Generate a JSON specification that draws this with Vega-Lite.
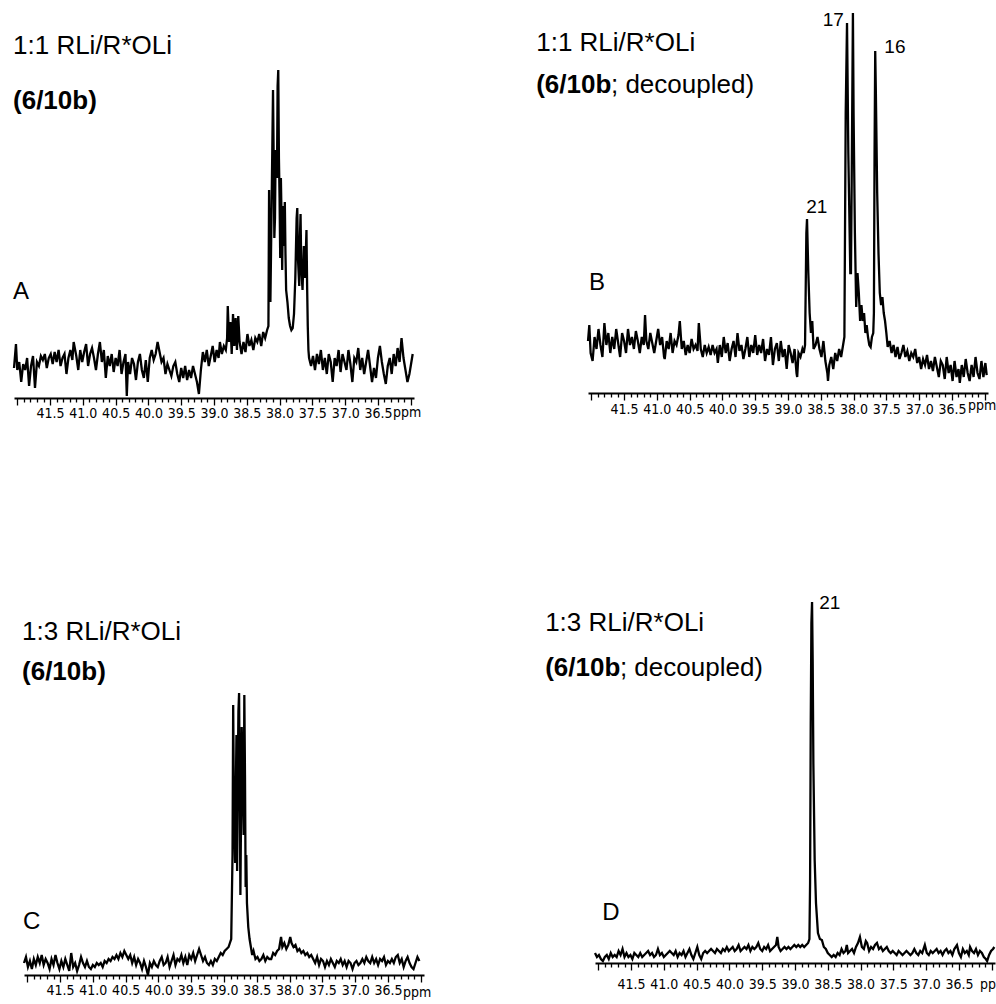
{
"$schema": "https://vega.github.io/schema/vega-lite/v6.json",
"padding": 0,
"autosize": {"type": "pad"},
"columns": 2,
"spacing": 0,
"bounds": "flush",
"config": {"view": {"stroke": null}, "font": "Liberation Sans"},
"datasets": {
"specA": [
{"ppm":42.05,"v":7.5},{"ppm":42.02,"v":13.5},{"ppm":42.0,"v":7},{"ppm":41.97,"v":9},{"ppm":41.94,"v":4},{"ppm":41.91,"v":8.5},{"ppm":41.88,"v":7},{"ppm":41.85,"v":10},{"ppm":41.82,"v":3},{"ppm":41.79,"v":8},{"ppm":41.76,"v":10.5},{"ppm":41.73,"v":2.5},{"ppm":41.7,"v":9},{"ppm":41.67,"v":8},{"ppm":41.64,"v":10.5},{"ppm":41.61,"v":9.5},{"ppm":41.58,"v":11},{"ppm":41.55,"v":7.5},{"ppm":41.52,"v":10},{"ppm":41.49,"v":11},{"ppm":41.46,"v":8.5},{"ppm":41.43,"v":11.5},{"ppm":41.4,"v":9},{"ppm":41.37,"v":12},{"ppm":41.34,"v":8},{"ppm":41.31,"v":10},{"ppm":41.28,"v":11},{"ppm":41.25,"v":6},{"ppm":41.22,"v":10},{"ppm":41.19,"v":12},{"ppm":41.16,"v":9.5},{"ppm":41.14,"v":14},{"ppm":41.1,"v":10.5},{"ppm":41.07,"v":7},{"ppm":41.04,"v":12},{"ppm":41.01,"v":9},{"ppm":40.98,"v":11.5},{"ppm":40.95,"v":13.5},{"ppm":40.92,"v":8},{"ppm":40.89,"v":11},{"ppm":40.86,"v":12.5},{"ppm":40.83,"v":10},{"ppm":40.8,"v":7},{"ppm":40.77,"v":11},{"ppm":40.74,"v":14},{"ppm":40.71,"v":9},{"ppm":40.68,"v":12},{"ppm":40.65,"v":5},{"ppm":40.62,"v":10.5},{"ppm":40.59,"v":8},{"ppm":40.56,"v":11},{"ppm":40.53,"v":6.5},{"ppm":40.5,"v":10},{"ppm":40.47,"v":8},{"ppm":40.44,"v":12},{"ppm":40.41,"v":6},{"ppm":40.38,"v":9},{"ppm":40.35,"v":11},{"ppm":40.33,"v":0.5},{"ppm":40.31,"v":9},{"ppm":40.28,"v":6},{"ppm":40.25,"v":10},{"ppm":40.22,"v":8.5},{"ppm":40.19,"v":4.5},{"ppm":40.16,"v":9},{"ppm":40.13,"v":11},{"ppm":40.1,"v":7},{"ppm":40.07,"v":5},{"ppm":40.04,"v":9.5},{"ppm":40.01,"v":4},{"ppm":39.98,"v":10},{"ppm":39.95,"v":12},{"ppm":39.92,"v":9.5},{"ppm":39.89,"v":11},{"ppm":39.86,"v":14},{"ppm":39.83,"v":11.5},{"ppm":39.8,"v":9},{"ppm":39.77,"v":10},{"ppm":39.74,"v":6},{"ppm":39.71,"v":8.5},{"ppm":39.68,"v":7},{"ppm":39.65,"v":5.5},{"ppm":39.62,"v":8},{"ppm":39.59,"v":9},{"ppm":39.56,"v":6},{"ppm":39.53,"v":4},{"ppm":39.5,"v":7.5},{"ppm":39.47,"v":5},{"ppm":39.44,"v":8},{"ppm":39.41,"v":4.5},{"ppm":39.38,"v":7},{"ppm":39.35,"v":5},{"ppm":39.32,"v":8},{"ppm":39.29,"v":6},{"ppm":39.26,"v":4},{"ppm":39.23,"v":1},{"ppm":39.2,"v":7},{"ppm":39.17,"v":11.5},{"ppm":39.14,"v":9},{"ppm":39.11,"v":12},{"ppm":39.08,"v":8},{"ppm":39.05,"v":10.5},{"ppm":39.02,"v":13},{"ppm":38.99,"v":9},{"ppm":38.96,"v":12},{"ppm":38.93,"v":10},{"ppm":38.91,"v":14},{"ppm":38.88,"v":11},{"ppm":38.85,"v":13},{"ppm":38.82,"v":12},{"ppm":38.8,"v":15},{"ppm":38.79,"v":23},{"ppm":38.77,"v":14},{"ppm":38.75,"v":19},{"ppm":38.73,"v":11},{"ppm":38.71,"v":21},{"ppm":38.69,"v":13},{"ppm":38.67,"v":20},{"ppm":38.65,"v":12},{"ppm":38.63,"v":20.5},{"ppm":38.61,"v":14},{"ppm":38.58,"v":11},{"ppm":38.55,"v":14},{"ppm":38.52,"v":11.5},{"ppm":38.49,"v":16},{"ppm":38.46,"v":13},{"ppm":38.43,"v":14.5},{"ppm":38.4,"v":12},{"ppm":38.37,"v":15},{"ppm":38.34,"v":14},{"ppm":38.31,"v":16},{"ppm":38.28,"v":13},{"ppm":38.25,"v":16.5},{"ppm":38.22,"v":15},{"ppm":38.19,"v":17},{"ppm":38.17,"v":18},{"ppm":38.16,"v":52},{"ppm":38.15,"v":35},{"ppm":38.14,"v":24},{"ppm":38.12,"v":50},{"ppm":38.1,"v":77},{"ppm":38.09,"v":60},{"ppm":38.08,"v":40},{"ppm":38.07,"v":45},{"ppm":38.06,"v":62},{"ppm":38.04,"v":55},{"ppm":38.03,"v":78},{"ppm":38.02,"v":82},{"ppm":38.01,"v":60},{"ppm":38.0,"v":50},{"ppm":37.99,"v":35},{"ppm":37.98,"v":55},{"ppm":37.97,"v":45},{"ppm":37.96,"v":32},{"ppm":37.95,"v":48},{"ppm":37.93,"v":38},{"ppm":37.92,"v":49},{"ppm":37.91,"v":36},{"ppm":37.9,"v":27},{"ppm":37.88,"v":24},{"ppm":37.86,"v":20},{"ppm":37.84,"v":18},{"ppm":37.82,"v":17},{"ppm":37.8,"v":17.5},{"ppm":37.78,"v":21},{"ppm":37.76,"v":30},{"ppm":37.74,"v":45},{"ppm":37.73,"v":47.5},{"ppm":37.72,"v":35},{"ppm":37.7,"v":28},{"ppm":37.69,"v":40},{"ppm":37.68,"v":46},{"ppm":37.67,"v":33},{"ppm":37.65,"v":27},{"ppm":37.63,"v":38},{"ppm":37.61,"v":30},{"ppm":37.59,"v":42},{"ppm":37.58,"v":28},{"ppm":37.57,"v":18},{"ppm":37.56,"v":12},{"ppm":37.55,"v":10},{"ppm":37.52,"v":8},{"ppm":37.49,"v":10.5},{"ppm":37.46,"v":7},{"ppm":37.43,"v":11},{"ppm":37.4,"v":8.5},{"ppm":37.37,"v":12},{"ppm":37.34,"v":7},{"ppm":37.31,"v":10},{"ppm":37.28,"v":6},{"ppm":37.25,"v":11},{"ppm":37.22,"v":9},{"ppm":37.19,"v":4},{"ppm":37.16,"v":10},{"ppm":37.13,"v":8},{"ppm":37.1,"v":12},{"ppm":37.07,"v":6.5},{"ppm":37.04,"v":11},{"ppm":37.01,"v":9},{"ppm":36.98,"v":7},{"ppm":36.95,"v":12},{"ppm":36.92,"v":8.5},{"ppm":36.89,"v":4},{"ppm":36.86,"v":10},{"ppm":36.83,"v":9},{"ppm":36.8,"v":12.5},{"ppm":36.77,"v":7},{"ppm":36.74,"v":10},{"ppm":36.71,"v":6},{"ppm":36.68,"v":9},{"ppm":36.65,"v":12},{"ppm":36.62,"v":8},{"ppm":36.59,"v":4},{"ppm":36.56,"v":7.5},{"ppm":36.53,"v":5},{"ppm":36.5,"v":10},{"ppm":36.47,"v":13},{"ppm":36.44,"v":9},{"ppm":36.41,"v":6},{"ppm":36.38,"v":3.5},{"ppm":36.35,"v":8},{"ppm":36.32,"v":10},{"ppm":36.29,"v":6},{"ppm":36.26,"v":11},{"ppm":36.23,"v":8},{"ppm":36.2,"v":12.5},{"ppm":36.17,"v":9},{"ppm":36.14,"v":15},{"ppm":36.11,"v":10},{"ppm":36.08,"v":7},{"ppm":36.05,"v":4},{"ppm":36.02,"v":6},{"ppm":35.99,"v":9},{"ppm":35.97,"v":11}
],
"specB": [
{"ppm":42.05,"v":13},{"ppm":42.03,"v":17},{"ppm":42.01,"v":10},{"ppm":41.98,"v":8},{"ppm":41.95,"v":14},{"ppm":41.92,"v":11},{"ppm":41.89,"v":16},{"ppm":41.86,"v":12},{"ppm":41.83,"v":9},{"ppm":41.8,"v":17.5},{"ppm":41.77,"v":12},{"ppm":41.74,"v":15},{"ppm":41.71,"v":10},{"ppm":41.68,"v":14},{"ppm":41.65,"v":11},{"ppm":41.62,"v":16},{"ppm":41.59,"v":12.5},{"ppm":41.56,"v":9},{"ppm":41.53,"v":15},{"ppm":41.5,"v":13},{"ppm":41.47,"v":10},{"ppm":41.44,"v":16},{"ppm":41.41,"v":12},{"ppm":41.38,"v":14},{"ppm":41.35,"v":11},{"ppm":41.32,"v":15.5},{"ppm":41.29,"v":13},{"ppm":41.26,"v":10},{"ppm":41.23,"v":14},{"ppm":41.2,"v":12},{"ppm":41.18,"v":19.5},{"ppm":41.16,"v":13},{"ppm":41.13,"v":11},{"ppm":41.1,"v":15},{"ppm":41.07,"v":12.5},{"ppm":41.04,"v":10},{"ppm":41.01,"v":13},{"ppm":40.98,"v":16},{"ppm":40.95,"v":12},{"ppm":40.92,"v":14},{"ppm":40.89,"v":9},{"ppm":40.88,"v":8.5},{"ppm":40.85,"v":13},{"ppm":40.82,"v":11},{"ppm":40.79,"v":15},{"ppm":40.76,"v":10},{"ppm":40.73,"v":13},{"ppm":40.7,"v":12},{"ppm":40.67,"v":14.5},{"ppm":40.65,"v":18},{"ppm":40.62,"v":11},{"ppm":40.59,"v":13},{"ppm":40.56,"v":9.5},{"ppm":40.53,"v":12},{"ppm":40.5,"v":10},{"ppm":40.47,"v":13.5},{"ppm":40.44,"v":11},{"ppm":40.41,"v":12},{"ppm":40.38,"v":10.5},{"ppm":40.36,"v":17.5},{"ppm":40.33,"v":11},{"ppm":40.3,"v":9},{"ppm":40.27,"v":12},{"ppm":40.24,"v":10},{"ppm":40.21,"v":11.5},{"ppm":40.18,"v":9.5},{"ppm":40.15,"v":12},{"ppm":40.12,"v":10},{"ppm":40.09,"v":11},{"ppm":40.07,"v":7.5},{"ppm":40.04,"v":12},{"ppm":40.01,"v":9},{"ppm":39.98,"v":14},{"ppm":39.95,"v":10},{"ppm":39.92,"v":12.5},{"ppm":39.89,"v":8},{"ppm":39.86,"v":11},{"ppm":39.83,"v":13},{"ppm":39.8,"v":9},{"ppm":39.77,"v":15},{"ppm":39.74,"v":10.5},{"ppm":39.71,"v":12},{"ppm":39.68,"v":8.5},{"ppm":39.65,"v":11},{"ppm":39.62,"v":14},{"ppm":39.59,"v":9},{"ppm":39.56,"v":12},{"ppm":39.53,"v":10},{"ppm":39.5,"v":14.5},{"ppm":39.47,"v":9.5},{"ppm":39.44,"v":12},{"ppm":39.41,"v":10},{"ppm":39.38,"v":13.5},{"ppm":39.35,"v":8},{"ppm":39.32,"v":11},{"ppm":39.29,"v":9.5},{"ppm":39.26,"v":14},{"ppm":39.23,"v":7},{"ppm":39.2,"v":11},{"ppm":39.17,"v":12.5},{"ppm":39.14,"v":8},{"ppm":39.11,"v":13},{"ppm":39.08,"v":9},{"ppm":39.05,"v":11},{"ppm":39.02,"v":6},{"ppm":38.99,"v":12},{"ppm":38.96,"v":10},{"ppm":38.93,"v":7.5},{"ppm":38.9,"v":11},{"ppm":38.87,"v":5},{"ppm":38.86,"v":4},{"ppm":38.84,"v":10},{"ppm":38.81,"v":9},{"ppm":38.78,"v":11},{"ppm":38.76,"v":10},{"ppm":38.74,"v":12},{"ppm":38.72,"v":40},{"ppm":38.71,"v":43.5},{"ppm":38.69,"v":30},{"ppm":38.67,"v":20},{"ppm":38.65,"v":15},{"ppm":38.63,"v":18},{"ppm":38.61,"v":11},{"ppm":38.58,"v":12},{"ppm":38.55,"v":14},{"ppm":38.52,"v":11},{"ppm":38.49,"v":9},{"ppm":38.46,"v":13},{"ppm":38.43,"v":8},{"ppm":38.4,"v":5},{"ppm":38.39,"v":3},{"ppm":38.37,"v":7},{"ppm":38.34,"v":9},{"ppm":38.31,"v":6},{"ppm":38.28,"v":10},{"ppm":38.25,"v":8},{"ppm":38.22,"v":11},{"ppm":38.19,"v":9},{"ppm":38.16,"v":12},{"ppm":38.14,"v":14},{"ppm":38.12,"v":70},{"ppm":38.1,"v":92.5},{"ppm":38.08,"v":60},{"ppm":38.06,"v":40},{"ppm":38.05,"v":30},{"ppm":38.04,"v":30},{"ppm":38.03,"v":50},{"ppm":38.01,"v":95},{"ppm":38.0,"v":70},{"ppm":37.98,"v":40},{"ppm":37.96,"v":21.5},{"ppm":37.94,"v":30},{"ppm":37.92,"v":25},{"ppm":37.9,"v":18},{"ppm":37.88,"v":22},{"ppm":37.86,"v":18},{"ppm":37.84,"v":20},{"ppm":37.82,"v":15},{"ppm":37.8,"v":17},{"ppm":37.78,"v":14},{"ppm":37.76,"v":12},{"ppm":37.74,"v":11.5},{"ppm":37.72,"v":14},{"ppm":37.7,"v":15},{"ppm":37.69,"v":20},{"ppm":37.68,"v":60},{"ppm":37.67,"v":85.5},{"ppm":37.66,"v":75},{"ppm":37.64,"v":50},{"ppm":37.62,"v":35},{"ppm":37.6,"v":25},{"ppm":37.58,"v":22},{"ppm":37.56,"v":24},{"ppm":37.54,"v":20},{"ppm":37.52,"v":18},{"ppm":37.5,"v":15},{"ppm":37.48,"v":11.5},{"ppm":37.45,"v":13},{"ppm":37.42,"v":10},{"ppm":37.39,"v":12},{"ppm":37.36,"v":9},{"ppm":37.33,"v":11.5},{"ppm":37.3,"v":8.5},{"ppm":37.27,"v":10},{"ppm":37.24,"v":12},{"ppm":37.21,"v":9},{"ppm":37.18,"v":10.5},{"ppm":37.15,"v":8},{"ppm":37.12,"v":10},{"ppm":37.09,"v":9},{"ppm":37.06,"v":11},{"ppm":37.03,"v":7.5},{"ppm":37.0,"v":9},{"ppm":36.97,"v":6},{"ppm":36.94,"v":8.5},{"ppm":36.91,"v":7},{"ppm":36.88,"v":9.5},{"ppm":36.85,"v":6},{"ppm":36.82,"v":8},{"ppm":36.79,"v":5.5},{"ppm":36.76,"v":9},{"ppm":36.73,"v":6.5},{"ppm":36.7,"v":4},{"ppm":36.67,"v":8},{"ppm":36.64,"v":7},{"ppm":36.61,"v":3.5},{"ppm":36.58,"v":9},{"ppm":36.55,"v":5},{"ppm":36.52,"v":7},{"ppm":36.49,"v":3},{"ppm":36.46,"v":8},{"ppm":36.43,"v":4},{"ppm":36.4,"v":6},{"ppm":36.38,"v":2.5},{"ppm":36.35,"v":7},{"ppm":36.32,"v":4},{"ppm":36.29,"v":8.5},{"ppm":36.26,"v":5},{"ppm":36.23,"v":3},{"ppm":36.2,"v":7},{"ppm":36.17,"v":4},{"ppm":36.14,"v":9},{"ppm":36.11,"v":5},{"ppm":36.08,"v":3.5},{"ppm":36.05,"v":8},{"ppm":36.02,"v":4},{"ppm":35.99,"v":7.5},{"ppm":35.97,"v":4.5}
],
"specC": [
{"ppm":42.05,"v":3},{"ppm":42.02,"v":4.5},{"ppm":41.99,"v":2},{"ppm":41.96,"v":3.5},{"ppm":41.93,"v":1.5},{"ppm":41.9,"v":4},{"ppm":41.87,"v":2.5},{"ppm":41.84,"v":4.5},{"ppm":41.81,"v":3},{"ppm":41.78,"v":5},{"ppm":41.75,"v":2.5},{"ppm":41.72,"v":4},{"ppm":41.69,"v":3},{"ppm":41.66,"v":1.5},{"ppm":41.63,"v":4},{"ppm":41.6,"v":2.5},{"ppm":41.57,"v":5},{"ppm":41.54,"v":3},{"ppm":41.51,"v":1.5},{"ppm":41.48,"v":3.5},{"ppm":41.45,"v":2},{"ppm":41.42,"v":4},{"ppm":41.39,"v":2.5},{"ppm":41.36,"v":1},{"ppm":41.33,"v":5.5},{"ppm":41.3,"v":2},{"ppm":41.27,"v":3},{"ppm":41.24,"v":1},{"ppm":41.21,"v":2.5},{"ppm":41.18,"v":4.5},{"ppm":41.15,"v":3},{"ppm":41.12,"v":2},{"ppm":41.09,"v":3.5},{"ppm":41.06,"v":2},{"ppm":41.03,"v":1.5},{"ppm":41.0,"v":2.5},{"ppm":40.97,"v":2},{"ppm":40.94,"v":3},{"ppm":40.91,"v":2.5},{"ppm":40.88,"v":3},{"ppm":40.85,"v":2},{"ppm":40.82,"v":3.5},{"ppm":40.79,"v":3},{"ppm":40.76,"v":4},{"ppm":40.73,"v":3.5},{"ppm":40.7,"v":4.5},{"ppm":40.67,"v":4},{"ppm":40.64,"v":5},{"ppm":40.61,"v":4},{"ppm":40.58,"v":5.5},{"ppm":40.55,"v":4.5},{"ppm":40.52,"v":6},{"ppm":40.49,"v":5},{"ppm":40.46,"v":4},{"ppm":40.43,"v":5},{"ppm":40.4,"v":3},{"ppm":40.37,"v":4.5},{"ppm":40.34,"v":2.5},{"ppm":40.31,"v":4},{"ppm":40.28,"v":3},{"ppm":40.25,"v":1.5},{"ppm":40.22,"v":3.5},{"ppm":40.19,"v":2},{"ppm":40.16,"v":0},{"ppm":40.13,"v":3},{"ppm":40.1,"v":2},{"ppm":40.07,"v":3.5},{"ppm":40.04,"v":2.5},{"ppm":40.01,"v":2},{"ppm":39.98,"v":3.5},{"ppm":39.95,"v":4.5},{"ppm":39.92,"v":2.5},{"ppm":39.89,"v":3},{"ppm":39.86,"v":4.5},{"ppm":39.83,"v":2},{"ppm":39.8,"v":3.5},{"ppm":39.77,"v":5},{"ppm":39.74,"v":2.5},{"ppm":39.71,"v":4},{"ppm":39.68,"v":3.5},{"ppm":39.65,"v":5},{"ppm":39.62,"v":3},{"ppm":39.59,"v":4.5},{"ppm":39.56,"v":2.5},{"ppm":39.53,"v":5},{"ppm":39.5,"v":4},{"ppm":39.47,"v":5.5},{"ppm":39.44,"v":3.5},{"ppm":39.41,"v":5},{"ppm":39.38,"v":6.5},{"ppm":39.35,"v":5},{"ppm":39.32,"v":3.5},{"ppm":39.29,"v":4.5},{"ppm":39.26,"v":3},{"ppm":39.23,"v":2.5},{"ppm":39.2,"v":3.5},{"ppm":39.17,"v":2.5},{"ppm":39.14,"v":4},{"ppm":39.11,"v":3.5},{"ppm":39.08,"v":4.5},{"ppm":39.05,"v":5.5},{"ppm":39.02,"v":5},{"ppm":38.99,"v":6},{"ppm":38.96,"v":6.5},{"ppm":38.93,"v":7},{"ppm":38.91,"v":8},{"ppm":38.89,"v":9},{"ppm":38.87,"v":30},{"ppm":38.86,"v":67.5},{"ppm":38.85,"v":45},{"ppm":38.83,"v":28},{"ppm":38.82,"v":45},{"ppm":38.81,"v":60},{"ppm":38.8,"v":26},{"ppm":38.79,"v":50},{"ppm":38.78,"v":66},{"ppm":38.77,"v":70.5},{"ppm":38.76,"v":45},{"ppm":38.75,"v":20},{"ppm":38.74,"v":40},{"ppm":38.73,"v":62},{"ppm":38.72,"v":55},{"ppm":38.7,"v":35},{"ppm":38.69,"v":70},{"ppm":38.68,"v":50},{"ppm":38.67,"v":22},{"ppm":38.66,"v":30},{"ppm":38.65,"v":18},{"ppm":38.63,"v":12},{"ppm":38.61,"v":9},{"ppm":38.59,"v":7},{"ppm":38.57,"v":5},{"ppm":38.55,"v":6},{"ppm":38.52,"v":4},{"ppm":38.49,"v":4.5},{"ppm":38.46,"v":3.5},{"ppm":38.43,"v":4},{"ppm":38.4,"v":5},{"ppm":38.37,"v":3.5},{"ppm":38.34,"v":4.5},{"ppm":38.31,"v":4},{"ppm":38.28,"v":4},{"ppm":38.25,"v":5.5},{"ppm":38.22,"v":5},{"ppm":38.19,"v":6},{"ppm":38.16,"v":6.5},{"ppm":38.13,"v":9.5},{"ppm":38.11,"v":7},{"ppm":38.08,"v":8},{"ppm":38.05,"v":6.5},{"ppm":38.02,"v":7.5},{"ppm":37.99,"v":9.5},{"ppm":37.97,"v":8},{"ppm":37.94,"v":7},{"ppm":37.91,"v":7.5},{"ppm":37.88,"v":6},{"ppm":37.85,"v":6.5},{"ppm":37.82,"v":5.5},{"ppm":37.79,"v":6},{"ppm":37.76,"v":5},{"ppm":37.73,"v":5.5},{"ppm":37.7,"v":4.5},{"ppm":37.67,"v":5},{"ppm":37.64,"v":4},{"ppm":37.61,"v":3},{"ppm":37.58,"v":4.5},{"ppm":37.55,"v":2.5},{"ppm":37.52,"v":4},{"ppm":37.49,"v":3.5},{"ppm":37.46,"v":2},{"ppm":37.43,"v":3.5},{"ppm":37.4,"v":2.5},{"ppm":37.37,"v":4},{"ppm":37.34,"v":3},{"ppm":37.31,"v":2},{"ppm":37.28,"v":3.5},{"ppm":37.25,"v":3},{"ppm":37.22,"v":4},{"ppm":37.19,"v":2.5},{"ppm":37.16,"v":3.5},{"ppm":37.13,"v":2},{"ppm":37.1,"v":3.5},{"ppm":37.07,"v":3},{"ppm":37.04,"v":1.5},{"ppm":37.01,"v":3},{"ppm":36.98,"v":3.5},{"ppm":36.95,"v":2.5},{"ppm":36.92,"v":3},{"ppm":36.89,"v":4},{"ppm":36.86,"v":3},{"ppm":36.83,"v":4.5},{"ppm":36.8,"v":3.5},{"ppm":36.77,"v":3},{"ppm":36.74,"v":4.5},{"ppm":36.71,"v":3},{"ppm":36.68,"v":4},{"ppm":36.65,"v":2.5},{"ppm":36.62,"v":4},{"ppm":36.59,"v":3.5},{"ppm":36.56,"v":4.5},{"ppm":36.53,"v":2.5},{"ppm":36.5,"v":3.5},{"ppm":36.47,"v":3},{"ppm":36.44,"v":4},{"ppm":36.41,"v":3},{"ppm":36.38,"v":4.5},{"ppm":36.35,"v":5},{"ppm":36.32,"v":3},{"ppm":36.29,"v":4},{"ppm":36.26,"v":2},{"ppm":36.23,"v":3.5},{"ppm":36.2,"v":4.5},{"ppm":36.17,"v":3},{"ppm":36.14,"v":2},{"ppm":36.11,"v":1.5},{"ppm":36.08,"v":3},{"ppm":36.05,"v":4.5},{"ppm":36.02,"v":3.5}
],
"specD": [
{"ppm":42.05,"v":2.5},{"ppm":42.02,"v":1.5},{"ppm":41.99,"v":2},{"ppm":41.96,"v":1},{"ppm":41.93,"v":0.5},{"ppm":41.9,"v":1.5},{"ppm":41.87,"v":2},{"ppm":41.84,"v":1},{"ppm":41.81,"v":2.5},{"ppm":41.78,"v":1.5},{"ppm":41.75,"v":2},{"ppm":41.72,"v":1.5},{"ppm":41.69,"v":3},{"ppm":41.66,"v":2},{"ppm":41.63,"v":3.5},{"ppm":41.6,"v":1.5},{"ppm":41.57,"v":2.5},{"ppm":41.54,"v":1.5},{"ppm":41.51,"v":2},{"ppm":41.48,"v":1},{"ppm":41.45,"v":2.5},{"ppm":41.42,"v":2},{"ppm":41.39,"v":1.5},{"ppm":41.36,"v":2.5},{"ppm":41.33,"v":1.5},{"ppm":41.3,"v":2},{"ppm":41.27,"v":2.5},{"ppm":41.24,"v":3},{"ppm":41.21,"v":2},{"ppm":41.18,"v":2.5},{"ppm":41.15,"v":1.5},{"ppm":41.12,"v":2},{"ppm":41.09,"v":3.5},{"ppm":41.06,"v":2},{"ppm":41.03,"v":2.5},{"ppm":41.0,"v":1.5},{"ppm":40.97,"v":2},{"ppm":40.94,"v":2.5},{"ppm":40.91,"v":3},{"ppm":40.88,"v":2.5},{"ppm":40.85,"v":2},{"ppm":40.82,"v":3},{"ppm":40.79,"v":1.5},{"ppm":40.76,"v":2.5},{"ppm":40.73,"v":2},{"ppm":40.7,"v":3},{"ppm":40.67,"v":1.5},{"ppm":40.64,"v":2.5},{"ppm":40.61,"v":3.5},{"ppm":40.58,"v":2},{"ppm":40.55,"v":1},{"ppm":40.52,"v":2.5},{"ppm":40.49,"v":4},{"ppm":40.46,"v":2},{"ppm":40.43,"v":1},{"ppm":40.4,"v":2.5},{"ppm":40.37,"v":3},{"ppm":40.34,"v":2.5},{"ppm":40.31,"v":3},{"ppm":40.28,"v":3.5},{"ppm":40.25,"v":3},{"ppm":40.22,"v":2.5},{"ppm":40.19,"v":3.5},{"ppm":40.16,"v":3},{"ppm":40.13,"v":2.5},{"ppm":40.1,"v":3.5},{"ppm":40.07,"v":3},{"ppm":40.04,"v":4},{"ppm":40.01,"v":3},{"ppm":39.98,"v":3.5},{"ppm":39.95,"v":4},{"ppm":39.92,"v":3},{"ppm":39.89,"v":3.5},{"ppm":39.86,"v":4.5},{"ppm":39.83,"v":3},{"ppm":39.8,"v":3.5},{"ppm":39.77,"v":4},{"ppm":39.74,"v":3.5},{"ppm":39.71,"v":4.5},{"ppm":39.68,"v":3},{"ppm":39.65,"v":4},{"ppm":39.62,"v":3.5},{"ppm":39.59,"v":4},{"ppm":39.56,"v":5},{"ppm":39.53,"v":3.5},{"ppm":39.5,"v":3},{"ppm":39.47,"v":4},{"ppm":39.44,"v":3.5},{"ppm":39.41,"v":4.5},{"ppm":39.38,"v":3},{"ppm":39.35,"v":3.5},{"ppm":39.32,"v":4},{"ppm":39.29,"v":4.5},{"ppm":39.27,"v":6.5},{"ppm":39.25,"v":4},{"ppm":39.22,"v":3},{"ppm":39.19,"v":3.5},{"ppm":39.16,"v":4},{"ppm":39.13,"v":3.5},{"ppm":39.1,"v":4},{"ppm":39.07,"v":3.5},{"ppm":39.04,"v":4},{"ppm":39.01,"v":4.5},{"ppm":38.98,"v":4},{"ppm":38.95,"v":4.5},{"ppm":38.92,"v":4},{"ppm":38.89,"v":4.5},{"ppm":38.86,"v":4},{"ppm":38.83,"v":4.5},{"ppm":38.8,"v":5},{"ppm":38.78,"v":6},{"ppm":38.77,"v":20},{"ppm":38.76,"v":60},{"ppm":38.75,"v":85},{"ppm":38.74,"v":90.25},{"ppm":38.73,"v":75},{"ppm":38.72,"v":50},{"ppm":38.7,"v":25.75},{"ppm":38.68,"v":15},{"ppm":38.65,"v":7.5},{"ppm":38.62,"v":6},{"ppm":38.59,"v":5.75},{"ppm":38.56,"v":4},{"ppm":38.53,"v":3.5},{"ppm":38.5,"v":2.5},{"ppm":38.47,"v":2},{"ppm":38.44,"v":1.5},{"ppm":38.41,"v":2},{"ppm":38.38,"v":1.5},{"ppm":38.35,"v":2.5},{"ppm":38.32,"v":2},{"ppm":38.29,"v":3.5},{"ppm":38.26,"v":2.5},{"ppm":38.23,"v":3},{"ppm":38.21,"v":4.5},{"ppm":38.19,"v":2.5},{"ppm":38.16,"v":3},{"ppm":38.13,"v":3.5},{"ppm":38.1,"v":2.5},{"ppm":38.07,"v":4},{"ppm":38.04,"v":5},{"ppm":38.01,"v":6.5},{"ppm":37.98,"v":4},{"ppm":37.95,"v":3.5},{"ppm":37.92,"v":5.5},{"ppm":37.9,"v":5},{"ppm":37.87,"v":3},{"ppm":37.84,"v":4},{"ppm":37.81,"v":3.5},{"ppm":37.78,"v":4.5},{"ppm":37.75,"v":5},{"ppm":37.72,"v":3.5},{"ppm":37.69,"v":4},{"ppm":37.66,"v":3},{"ppm":37.63,"v":3.5},{"ppm":37.6,"v":4},{"ppm":37.57,"v":3},{"ppm":37.54,"v":2.5},{"ppm":37.51,"v":3},{"ppm":37.48,"v":2.5},{"ppm":37.45,"v":2},{"ppm":37.42,"v":3},{"ppm":37.39,"v":2.5},{"ppm":37.36,"v":2},{"ppm":37.33,"v":2.5},{"ppm":37.3,"v":3},{"ppm":37.27,"v":2.5},{"ppm":37.24,"v":2},{"ppm":37.21,"v":2.5},{"ppm":37.18,"v":3.5},{"ppm":37.15,"v":2.5},{"ppm":37.12,"v":2},{"ppm":37.09,"v":3},{"ppm":37.06,"v":2.5},{"ppm":37.02,"v":4.5},{"ppm":36.99,"v":2.5},{"ppm":36.96,"v":2},{"ppm":36.93,"v":3},{"ppm":36.9,"v":2.5},{"ppm":36.87,"v":3},{"ppm":36.84,"v":3.5},{"ppm":36.81,"v":2.5},{"ppm":36.78,"v":3},{"ppm":36.75,"v":2},{"ppm":36.72,"v":3},{"ppm":36.69,"v":3.5},{"ppm":36.66,"v":2.5},{"ppm":36.63,"v":3},{"ppm":36.6,"v":2},{"ppm":36.57,"v":3.5},{"ppm":36.53,"v":4.5},{"ppm":36.5,"v":2.5},{"ppm":36.47,"v":1.5},{"ppm":36.44,"v":3.5},{"ppm":36.41,"v":2.5},{"ppm":36.38,"v":3},{"ppm":36.35,"v":2},{"ppm":36.33,"v":4},{"ppm":36.3,"v":3},{"ppm":36.27,"v":2.5},{"ppm":36.24,"v":3.5},{"ppm":36.21,"v":2},{"ppm":36.18,"v":3},{"ppm":36.15,"v":2.5},{"ppm":36.12,"v":1.5},{"ppm":36.09,"v":1},{"ppm":36.07,"v":0.5},{"ppm":36.04,"v":2},{"ppm":36.01,"v":3},{"ppm":35.98,"v":3.5},{"ppm":35.96,"v":4}
]
},
"concat": [
{
 "width": 498, "height": 502,
 "encoding": {
  "x": {"field": "ppm", "type": "quantitative",
   "scale": {"domain": [35.95, 42.05], "range": [14, 414], "reverse": true, "nice": false, "zero": false},
   "axis": {"title": null, "offset": -104, "labelPadding": 1, "values": [36,36.1,36.2,36.3,36.4,36.5,36.6,36.7,36.8,36.9,37,37.1,37.2,37.3,37.4,37.5,37.6,37.7,37.8,37.9,38,38.1,38.2,38.3,38.4,38.5,38.6,38.7,38.8,38.9,39,39.1,39.2,39.3,39.4,39.5,39.6,39.7,39.8,39.9,40,40.1,40.2,40.3,40.4,40.5,40.6,40.7,40.8,40.9,41,41.1,41.2,41.3,41.4,41.5,41.6,41.7,41.8,41.9,42],
    "labelExpr": "(abs(datum.value*2 - round(datum.value*2)) < 0.01 && datum.value > 36.45 && datum.value < 41.55) ? format(datum.value, '.1f') : ''",
    "tickSize": {"condition": {"test": "abs(datum.value*2 - round(datum.value*2)) < 0.01", "value": 7}, "value": 4},
    "domainColor": "black", "domainWidth": 2, "tickColor": "black", "tickWidth": 1.3, "grid": false,
    "labelColor": "black", "labelFont": "Liberation Sans Narrow, DejaVu Sans Condensed, sans-serif", "labelFontSize": 14,
    "labelOverlap": false, "labelFlush": false, "labelBound": false}},
  "y": {"field": "v", "type": "quantitative", "scale": {"domain": [0, 100], "range": [398, -2], "nice": false, "zero": false}, "axis": null}
 },
 "layer": [
  {"data": {"name": "specA"}, "mark": {"type": "line", "color": "black", "strokeWidth": 2.3, "clip": false}},
  {"data": {"values": [{"t": "1:1 RLi/R*OLi", "ppm": 42.065, "v": 88}]}, "mark": {"type": "text", "align": "left", "baseline": "middle", "fontSize": 26, "font": "Liberation Sans", "color": "black"}, "encoding": {"text": {"field": "t"}}},
  {"data": {"values": [{"t": "(6/10b)", "ppm": 42.065, "v": 74.25}]}, "mark": {"type": "text", "align": "left", "baseline": "middle", "fontSize": 26, "fontWeight": "bold", "font": "Liberation Sans", "color": "black"}, "encoding": {"text": {"field": "t"}}},
  {"data": {"values": [{"t": "A", "ppm": 42.065, "v": 26.5}]}, "mark": {"type": "text", "align": "left", "baseline": "middle", "fontSize": 24, "font": "Liberation Sans", "color": "black"}, "encoding": {"text": {"field": "t"}}},
  {"data": {"values": [{"t": "ppm", "ppm": 36.27, "v": -3.75}]}, "mark": {"type": "text", "align": "left", "baseline": "middle", "fontSize": 14, "font": "Liberation Sans Narrow, DejaVu Sans Condensed, sans-serif", "color": "black"}, "encoding": {"text": {"field": "t"}}}
 ]
},
{
 "width": 498, "height": 502,
 "encoding": {
  "x": {"field": "ppm", "type": "quantitative",
   "scale": {"domain": [35.95, 42.05], "range": [90, 490], "reverse": true, "nice": false, "zero": false},
   "axis": {"title": null, "offset": -109, "labelPadding": 2, "values": [36,36.1,36.2,36.3,36.4,36.5,36.6,36.7,36.8,36.9,37,37.1,37.2,37.3,37.4,37.5,37.6,37.7,37.8,37.9,38,38.1,38.2,38.3,38.4,38.5,38.6,38.7,38.8,38.9,39,39.1,39.2,39.3,39.4,39.5,39.6,39.7,39.8,39.9,40,40.1,40.2,40.3,40.4,40.5,40.6,40.7,40.8,40.9,41,41.1,41.2,41.3,41.4,41.5,41.6,41.7,41.8,41.9,42],
    "labelExpr": "(abs(datum.value*2 - round(datum.value*2)) < 0.01 && datum.value > 36.45 && datum.value < 41.55) ? format(datum.value, '.1f') : ''",
    "tickSize": {"condition": {"test": "abs(datum.value*2 - round(datum.value*2)) < 0.01", "value": 7}, "value": 4},
    "domainColor": "black", "domainWidth": 2, "tickColor": "black", "tickWidth": 1.3, "grid": false,
    "labelColor": "black", "labelFont": "Liberation Sans Narrow, DejaVu Sans Condensed, sans-serif", "labelFontSize": 14,
    "labelOverlap": false, "labelFlush": false, "labelBound": false}},
  "y": {"field": "v", "type": "quantitative", "scale": {"domain": [0, 100], "range": [393, -7], "nice": false, "zero": false}, "axis": null}
 },
 "layer": [
  {"data": {"name": "specB"}, "mark": {"type": "line", "color": "black", "strokeWidth": 2.3, "clip": false}},
  {"data": {"values": [{"t": "1:1 RLi/R*OLi", "ppm": 42.84, "v": 87.5}, {"t": "; decoupled)", "ppm": 41.7, "v": 77}]}, "mark": {"type": "text", "align": "left", "baseline": "middle", "fontSize": 26, "font": "Liberation Sans", "color": "black"}, "encoding": {"text": {"field": "t"}}},
  {"data": {"values": [{"t": "(6/10b", "ppm": 42.84, "v": 77}]}, "mark": {"type": "text", "align": "left", "baseline": "middle", "fontSize": 26, "fontWeight": "bold", "font": "Liberation Sans", "color": "black"}, "encoding": {"text": {"field": "t"}}},
  {"data": {"values": [{"t": "B", "ppm": 42.035, "v": 27.5}]}, "mark": {"type": "text", "align": "left", "baseline": "middle", "fontSize": 24, "font": "Liberation Sans", "color": "black"}, "encoding": {"text": {"field": "t"}}},
  {"data": {"values": [{"t": "21", "ppm": 38.56, "v": 46.5}, {"t": "17", "ppm": 38.31, "v": 93.25}, {"t": "16", "ppm": 37.37, "v": 86.5}]}, "mark": {"type": "text", "align": "center", "baseline": "middle", "fontSize": 19, "font": "Liberation Sans", "color": "black"}, "encoding": {"text": {"field": "t"}}},
  {"data": {"values": [{"t": "ppm", "ppm": 36.255, "v": -3.25}]}, "mark": {"type": "text", "align": "left", "baseline": "middle", "fontSize": 14, "font": "Liberation Sans Narrow, DejaVu Sans Condensed, sans-serif", "color": "black"}, "encoding": {"text": {"field": "t"}}}
 ]
},
{
 "width": 498, "height": 502,
 "encoding": {
  "x": {"field": "ppm", "type": "quantitative",
   "scale": {"domain": [35.95, 42.05], "range": [24, 424], "reverse": true, "nice": false, "zero": false},
   "axis": {"title": null, "offset": -29, "labelPadding": 1, "values": [36,36.1,36.2,36.3,36.4,36.5,36.6,36.7,36.8,36.9,37,37.1,37.2,37.3,37.4,37.5,37.6,37.7,37.8,37.9,38,38.1,38.2,38.3,38.4,38.5,38.6,38.7,38.8,38.9,39,39.1,39.2,39.3,39.4,39.5,39.6,39.7,39.8,39.9,40,40.1,40.2,40.3,40.4,40.5,40.6,40.7,40.8,40.9,41,41.1,41.2,41.3,41.4,41.5,41.6,41.7,41.8,41.9,42],
    "labelExpr": "(abs(datum.value*2 - round(datum.value*2)) < 0.01 && datum.value > 36.45 && datum.value < 41.55) ? format(datum.value, '.1f') : ''",
    "tickSize": {"condition": {"test": "abs(datum.value*2 - round(datum.value*2)) < 0.01", "value": 7}, "value": 4},
    "domainColor": "black", "domainWidth": 2, "tickColor": "black", "tickWidth": 1.3, "grid": false,
    "labelColor": "black", "labelFont": "Liberation Sans Narrow, DejaVu Sans Condensed, sans-serif", "labelFontSize": 14,
    "labelOverlap": false, "labelFlush": false, "labelBound": false}},
  "y": {"field": "v", "type": "quantitative", "scale": {"domain": [0, 100], "range": [473, 73], "nice": false, "zero": false}, "axis": null}
 },
 "layer": [
  {"data": {"name": "specC"}, "mark": {"type": "line", "color": "black", "strokeWidth": 2.3, "clip": false}},
  {"data": {"values": [{"t": "1:3 RLi/R*OLi", "ppm": 42.08, "v": 85.75}]}, "mark": {"type": "text", "align": "left", "baseline": "middle", "fontSize": 26, "font": "Liberation Sans", "color": "black"}, "encoding": {"text": {"field": "t"}}},
  {"data": {"values": [{"t": "(6/10b)", "ppm": 42.08, "v": 75.75}]}, "mark": {"type": "text", "align": "left", "baseline": "middle", "fontSize": 26, "fontWeight": "bold", "font": "Liberation Sans", "color": "black"}, "encoding": {"text": {"field": "t"}}},
  {"data": {"values": [{"t": "C", "ppm": 42.065, "v": 13.25}]}, "mark": {"type": "text", "align": "left", "baseline": "middle", "fontSize": 24, "font": "Liberation Sans", "color": "black"}, "encoding": {"text": {"field": "t"}}},
  {"data": {"values": [{"t": "ppm", "ppm": 36.27, "v": -4.5}]}, "mark": {"type": "text", "align": "left", "baseline": "middle", "fontSize": 14, "font": "Liberation Sans Narrow, DejaVu Sans Condensed, sans-serif", "color": "black"}, "encoding": {"text": {"field": "t"}}}
 ]
},
{
 "width": 498, "height": 502,
 "encoding": {
  "x": {"field": "ppm", "type": "quantitative",
   "scale": {"domain": [35.95, 42.05], "range": [97, 497], "reverse": true, "nice": false, "zero": false},
   "axis": {"title": null, "offset": -41, "labelPadding": 7, "values": [36,36.1,36.2,36.3,36.4,36.5,36.6,36.7,36.8,36.9,37,37.1,37.2,37.3,37.4,37.5,37.6,37.7,37.8,37.9,38,38.1,38.2,38.3,38.4,38.5,38.6,38.7,38.8,38.9,39,39.1,39.2,39.3,39.4,39.5,39.6,39.7,39.8,39.9,40,40.1,40.2,40.3,40.4,40.5,40.6,40.7,40.8,40.9,41,41.1,41.2,41.3,41.4,41.5,41.6,41.7,41.8,41.9,42],
    "labelExpr": "(abs(datum.value*2 - round(datum.value*2)) < 0.01 && datum.value > 36.45 && datum.value < 41.55) ? format(datum.value, '.1f') : ''",
    "tickSize": {"condition": {"test": "abs(datum.value*2 - round(datum.value*2)) < 0.01", "value": 7}, "value": 4},
    "domainColor": "black", "domainWidth": 2, "tickColor": "black", "tickWidth": 1.3, "grid": false,
    "labelColor": "black", "labelFont": "Liberation Sans Narrow, DejaVu Sans Condensed, sans-serif", "labelFontSize": 14,
    "labelOverlap": false, "labelFlush": false, "labelBound": false}},
  "y": {"field": "v", "type": "quantitative", "scale": {"domain": [0, 100], "range": [461, 61], "nice": false, "zero": false}, "axis": null}
 },
 "layer": [
  {"data": {"name": "specD"}, "mark": {"type": "line", "color": "black", "strokeWidth": 2.3, "clip": false}},
  {"data": {"values": [{"t": "1:3 RLi/R*OLi", "ppm": 42.81, "v": 85}, {"t": "; decoupled)", "ppm": 41.67, "v": 73.75}]}, "mark": {"type": "text", "align": "left", "baseline": "middle", "fontSize": 26, "font": "Liberation Sans", "color": "black"}, "encoding": {"text": {"field": "t"}}},
  {"data": {"values": [{"t": "(6/10b", "ppm": 42.81, "v": 73.75}]}, "mark": {"type": "text", "align": "left", "baseline": "middle", "fontSize": 26, "fontWeight": "bold", "font": "Liberation Sans", "color": "black"}, "encoding": {"text": {"field": "t"}}},
  {"data": {"values": [{"t": "D", "ppm": 41.94, "v": 12.5}]}, "mark": {"type": "text", "align": "left", "baseline": "middle", "fontSize": 24, "font": "Liberation Sans", "color": "black"}, "encoding": {"text": {"field": "t"}}},
  {"data": {"values": [{"t": "21", "ppm": 38.47, "v": 90}]}, "mark": {"type": "text", "align": "center", "baseline": "middle", "fontSize": 19, "font": "Liberation Sans", "color": "black"}, "encoding": {"text": {"field": "t"}}},
  {"data": {"values": [{"t": "ppm", "ppm": 36.18, "v": -5.5}]}, "mark": {"type": "text", "align": "left", "baseline": "middle", "fontSize": 14, "font": "Liberation Sans Narrow, DejaVu Sans Condensed, sans-serif", "color": "black", "clip": true}, "encoding": {"text": {"field": "t"}}}
 ]
}
]
}
